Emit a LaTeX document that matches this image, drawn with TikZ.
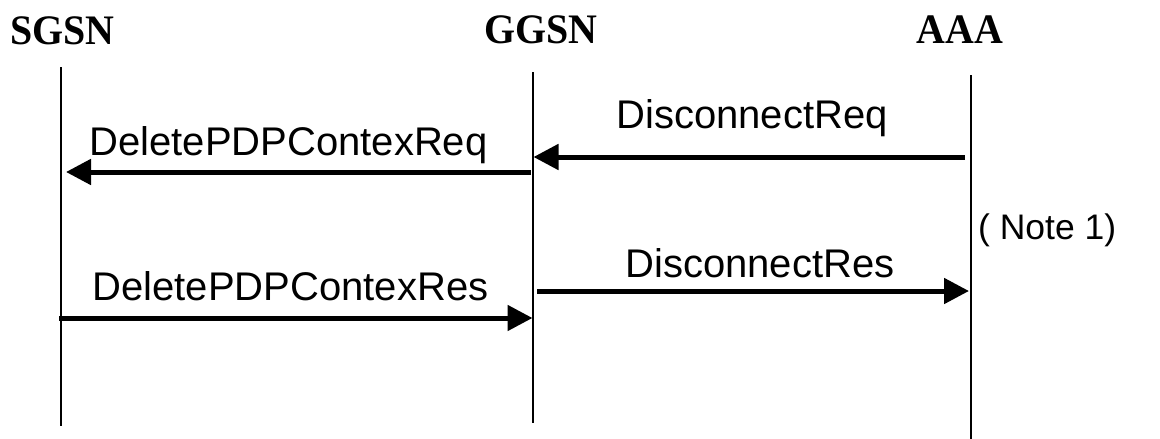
\documentclass[tikz,border=0pt]{standalone}
\usepackage{fontspec}
\setmainfont{Liberation Serif}
\newfontfamily\arialf{Liberation Sans}
\usetikzlibrary{arrows.meta}
\newcommand\hdrtext[1]{\scalebox{0.95}[1]{#1}}
\begin{document}
\begin{tikzpicture}[x=1pt,y=-1pt,
  header/.style={inner sep=0pt,anchor=base,font=\fontsize{42}{50}\selectfont\bfseries},
  msglabel/.style={inner sep=0pt,anchor=base,font=\arialf\fontsize{40}{48}\selectfont},
  notelabel/.style={inner sep=0pt,anchor=base west,font=\arialf\fontsize{35.5}{42}\selectfont},
  lifeline/.style={line width=1.4pt,black},
  msg/.style={line width=5pt,-{Triangle[length=25pt,width=25pt]}}]
\useasboundingbox (0,0) rectangle (1160,439);
% headers
\node[header] (sgsn) at (62.5,45) {\hdrtext{SGSN}};
\node[header] (ggsn) at (541,43) {\hdrtext{GGSN}};
\node[header] (aaa) at (960,43) {\hdrtext{AAA}};
% lifelines
\coordinate (sTop) at (61,67);  \coordinate (sBot) at (61,426);
\coordinate (gTop) at (533,72); \coordinate (gBot) at (533,423);
\coordinate (aTop) at (971,75); \coordinate (aBot) at (971,439);
\draw[lifeline] (sTop) -- (sBot);
\draw[lifeline] (gTop) -- (gBot);
\draw[lifeline] (aTop) -- (aBot);
% message end points
\coordinate (a1) at (965,157); \coordinate (g1) at (533.5,157);
\coordinate (g2) at (531,172); \coordinate (s2) at (66,172);
\coordinate (g3) at (537,291); \coordinate (a3) at (969,291);
\coordinate (s4) at (59,318);  \coordinate (g4) at (532.5,318);
\draw[msg] (a1) -- (g1);
\draw[msg] (g2) -- (s2);
\draw[msg] (g3) -- (a3);
\draw[msg] (s4) -- (g4);
% labels
\node[msglabel] (l1) at (752,128) {DisconnectReq};
\node[msglabel] (l2) at (288.5,155) {DeletePDPContexReq};
\node[msglabel] (l3) at (760,277) {DisconnectRes};
\node[msglabel] (l4) at (290.5,300) {DeletePDPContexRes};
\node[notelabel] (note) at (978,239) {( Note 1)};
\end{tikzpicture}
\end{document}
